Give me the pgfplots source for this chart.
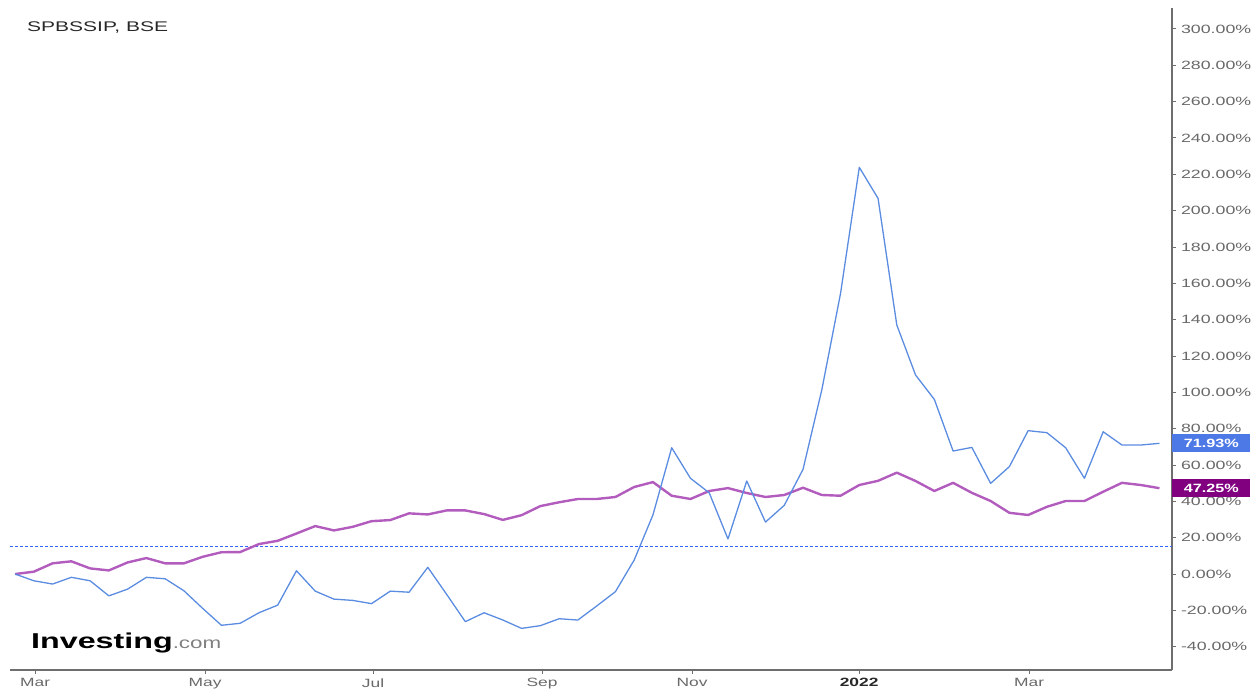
\documentclass[border=0pt]{standalone}
\usepackage{pgfplots}
\pgfplotsset{compat=1.18}
\usepackage{pgfplotstable}
\usepackage{fontspec}
\setmainfont{Liberation Sans}
\definecolor{blueline}{RGB}{90,140,225}
\definecolor{purpleline}{RGB}{178,92,190}
\definecolor{bluebox}{RGB}{77,121,230}
\definecolor{purplebox}{RGB}{128,0,128}
\definecolor{dashline}{RGB}{50,100,255}
\definecolor{axisgray}{RGB}{110,110,110}
\definecolor{labelgray}{RGB}{105,105,105}
\definecolor{titlegray}{RGB}{40,40,40}

\pgfplotstableread{
i v
0 0
1 -3.7
2 -5.5
3 -1.8
4 -3.7
5 -12.0
6 -8.3
7 -1.8
8 -2.6
9 -9.2
10 -18.9
11 -28.2
12 -27.1
13 -21.3
14 -17.1
15 1.8
16 -9.4
17 -13.8
18 -14.5
19 -16.3
20 -9.4
21 -10.0
22 3.7
23 -11.1
24 -26.2
25 -21.3
26 -25.3
27 -29.9
28 -28.4
29 -24.6
30 -25.3
31 -17.6
32 -9.7
33 7.7
34 32.5
35 69.5
36 52.7
37 44.7
38 19.3
39 51.2
40 28.6
41 37.8
42 57.6
43 101.3
44 154.4
45 223.8
46 206.7
47 137.0
48 109.5
49 96.1
50 67.7
51 69.7
52 49.9
53 59.1
54 78.9
55 77.8
56 69.5
57 52.7
58 78.3
59 71.0
60 71.0
61 71.93
}\bluedata

\pgfplotstableread{
i v
0 0
1 1.3
2 5.9
3 7.0
4 3.1
5 2.0
6 6.4
7 8.8
8 5.9
9 5.9
10 9.5
11 12.0
12 12.1
13 16.5
14 18.3
15 22.3
16 26.4
17 24.0
18 26.0
19 29.1
20 29.7
21 33.4
22 32.8
23 35.0
24 35.0
25 33.0
26 29.8
27 32.4
28 37.4
29 39.5
30 41.3
31 41.3
32 42.4
33 47.9
34 50.6
35 43.1
36 41.3
37 45.7
38 47.3
39 44.6
40 42.4
41 43.5
42 47.5
43 43.5
44 43.1
45 49.0
46 51.3
47 55.8
48 51.2
49 45.7
50 50.2
51 44.7
52 40.2
53 33.7
54 32.5
55 37.0
56 40.2
57 40.2
58 45.3
59 50.2
60 49.0
61 47.25
}\purpledata

\begin{document}
\begin{tikzpicture}[x=1pt,y=1pt]
\path[use as bounding box] (0,0) rectangle (1259,690);
\begin{axis}[
  at={(10pt,20pt)}, anchor=south west,
  scale only axis, width=1162pt, height=662pt,
  xmin=-0.27, xmax=61.67, ymin=-52.8, ymax=311.5,
  axis x line=bottom, axis y line=right,
  axis line style={-, draw=axisgray, line width=1.2pt},
  tick style={draw=axisgray, line width=0.9pt},
  major tick length=4pt, tick align=outside,
  clip=false,
  ytick={-40,-20,...,300},
  yticklabel={\scalebox{1.48}[1]{\pgfmathprintnumber[fixed,fixed zerofill,precision=2,assume math mode=true]{\tick}\%}},
  yticklabel style={font=\fontsize{12}{13}\selectfont, text=labelgray, anchor=west, xshift=1.5pt},
  xtick={1.07,10.13,19.08,28.09,36.09,44.99,54.05},
  xticklabels={\scalebox{1.45}[1]{Mar},\scalebox{1.45}[1]{May},\scalebox{1.45}[1]{Jul},\scalebox{1.45}[1]{Sep},\scalebox{1.45}[1]{Nov},\scalebox{1.45}[1]{\textcolor{titlegray}{\bfseries 2022}},\scalebox{1.45}[1]{Mar}},
  xticklabel style={font=\fontsize{12}{13}\selectfont, text=labelgray, yshift=-1pt},
]
\addplot[dashline, line width=0.8pt, dash pattern=on 3pt off 2pt] coordinates {(-0.27,15.4) (61.67,15.4)};
\addplot[purpleline, line width=2.4pt, line join=round] table[x=i,y=v] {\purpledata};
\addplot[blueline, line width=1.3pt, line join=round] table[x=i,y=v] {\bluedata};
\node[fill=bluebox, text=white, anchor=west, inner sep=0pt, minimum width=78pt, minimum height=18pt, font=\fontsize{12}{13}\selectfont\bfseries] at (axis cs:61.67,71.93) {\scalebox{1.35}[1]{71.93\%}};
\node[fill=purplebox, text=white, anchor=west, inner sep=0pt, minimum width=78pt, minimum height=18pt, font=\fontsize{12}{13}\selectfont\bfseries] at (axis cs:61.67,47.25) {\scalebox{1.35}[1]{47.25\%}};
\end{axis}
\node[anchor=base west, inner sep=0pt, font=\fontsize{14}{16}\selectfont, text=titlegray] at (27,658.3) {\scalebox{1.5}[1]{SPBSSIP, BSE}};
\node[anchor=base west, inner sep=0pt] at (31,41.7) {\scalebox{1.5}[1]{\fontsize{21.5}{23}\selectfont\bfseries Investing}\scalebox{1.4}[1]{\fontsize{16}{18}\selectfont\color{gray}.com}};
\end{tikzpicture}
\end{document}
